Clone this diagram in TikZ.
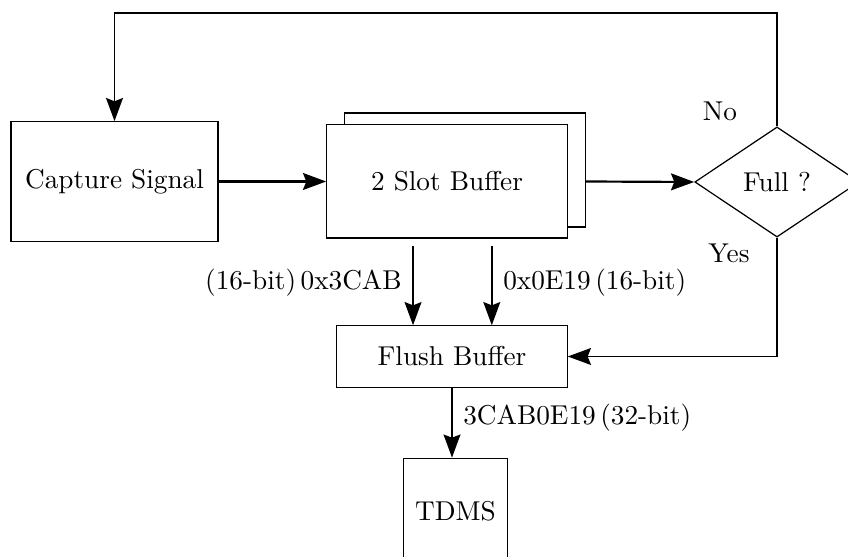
\documentclass[tikz,border=0pt]{standalone}
\usetikzlibrary{arrows.meta,shapes.geometric}
\begin{document}
\begin{tikzpicture}[x=0.0129cm,y=-0.0129cm,>={Stealth[length=8.5pt,width=6.2pt,inset=1.2pt]},box/.style={draw,line width=0.45pt,fill=white,align=center,inner sep=0pt},decision/.style={draw,line width=0.45pt,diamond,aspect=1.5,inner sep=0pt,minimum width=2.12cm,minimum height=1.42cm},arrow/.style={->,semithick},bold/.style={->,thick},lbl/.style={inner sep=1pt}]
\useasboundingbox (0,0) rectangle (848,557);
\node[box,minimum width=2.67cm,minimum height=1.54cm] (capture) at (114.5,181.5) {Capture Signal};
\node[box,minimum width=3.1cm,minimum height=1.47cm] (back) at (465,170) {};
\node[box,minimum width=3.1cm,minimum height=1.46cm] (front) at (447,181.5) {2 Slot Buffer};
\node[decision] (full) at (777,182) {Full ?};
\node[box,minimum width=2.97cm,minimum height=0.79cm] (flush) at (452,356.5) {Flush Buffer};
\node[box,minimum width=1.35cm,minimum height=1.36cm] (tdms) at (455.5,511) {TDMS};
\coordinate (top) at (0,13);
\node[lbl] (no) at (720,111) {No}; \node[lbl] (yes) at (729,253) {Yes};
\draw[bold] (capture) -- (front); \draw[bold] (front.east -| back.east) -- (full.west);
\draw[arrow] (full.north) -- (full.north |- top) -| (capture.north);
\draw[arrow] (full.south) |- (flush.east);
\draw[arrow,shorten <=2.6pt] ([xshift=-14.3pt]flush.north |- front.south) -- ([xshift=-14.3pt]flush.north);
\draw[arrow,shorten <=2.6pt] ([xshift=14.6pt]flush.north |- front.south) -- ([xshift=14.6pt]flush.north);
\draw[arrow] (flush.south) -- (flush.south |- tdms.north);
\node[lbl,anchor=east] (lsrc) at (405,283) {(16-bit)\,0x3CAB};
\node[lbl,anchor=west] (rsrc) at (500,283) {0x0E19\,(16-bit)};
\node[lbl,anchor=west] (out) at (460,418) {3CAB0E19\,(32-bit)};
\end{tikzpicture}
\end{document}
